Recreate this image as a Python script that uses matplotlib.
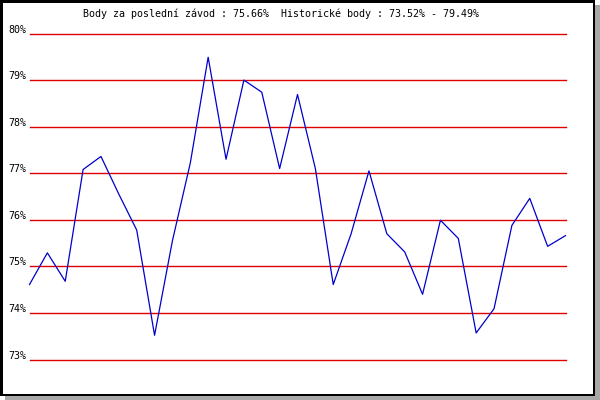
import matplotlib
matplotlib.use("Agg")
import matplotlib.pyplot as plt
import matplotlib.patches as mpatches
import matplotlib.transforms as mtransforms

# Data
values = [74.61, 75.29, 74.68, 77.08, 77.36, 76.55, 75.78, 73.52, 75.55, 77.22,
          79.49, 77.30, 79.00, 78.74, 77.10, 78.69, 77.10, 74.61, 75.70, 77.05,
          75.70, 75.31, 74.40, 75.99, 75.60, 73.57, 74.09, 75.88, 76.46, 75.43,
          75.66]
y_ticks = [73, 74, 75, 76, 77, 78, 79, 80]
y_labels = ["73%", "74%", "75%", "76%", "77%", "78%", "79%", "80%"]
title = "Body za poslední závod : 75.66%  Historické body : 73.52% - 79.49%"

W, H = 600, 400
fig = plt.figure(figsize=(6, 4), dpi=100, facecolor="white")

def px_rect(x, y_top, w, h, color, z):
    # x, y_top in pixel coords from top-left
    r = mpatches.Rectangle((x / W, 1 - (y_top + h) / H), w / W, h / H,
                           transform=fig.transFigure, facecolor=color,
                           edgecolor="none", zorder=z)
    fig.patches.append(r)

# shadow, frame, inner white
px_rect(5, 5, 595, 395, "#a8a8a8", 0)
px_rect(0, 0, 595, 396, "#000000", 1)
px_rect(2.5, 2.5, 590.5, 391, "#ffffff", 2)

left, right = 29.5, 565.5
top, bottom = 33.5, 359.5
ax = fig.add_axes([left / W, 1 - bottom / H, (right - left) / W, (bottom - top) / H])
ax.set_facecolor("none")
ax.set_zorder(5)
for s in ax.spines.values():
    s.set_visible(False)
ax.set_xticks([])
ax.set_yticks([])
ax.set_xlim(0, len(values) - 1)
ax.set_ylim(73, 80)

for t in y_ticks:
    ax.axhline(t, color="#e00000", linewidth=1.0, clip_on=False, zorder=1)

ax.plot(range(len(values)), values, color="#0000cc", linewidth=0.9,
        clip_on=False, zorder=3)

mono = "DejaVu Sans Mono"
trans = mtransforms.blended_transform_factory(fig.transFigure, ax.transData)
off = mtransforms.ScaledTranslation(0, 1.0 / 100, fig.dpi_scale_trans)
for t, lab in zip(y_ticks, y_labels):
    ax.text(26.5 / W, t, lab, transform=trans + off, ha="right", va="baseline",
            fontsize=7.2, family=mono, color="black", zorder=6)

fig.text(82.7 / W, 1 - 17.3 / H, title, ha="left", va="baseline",
         fontsize=7.2, family=mono, color="black", zorder=6)

fig.savefig("out.png", dpi=100, facecolor="white")
